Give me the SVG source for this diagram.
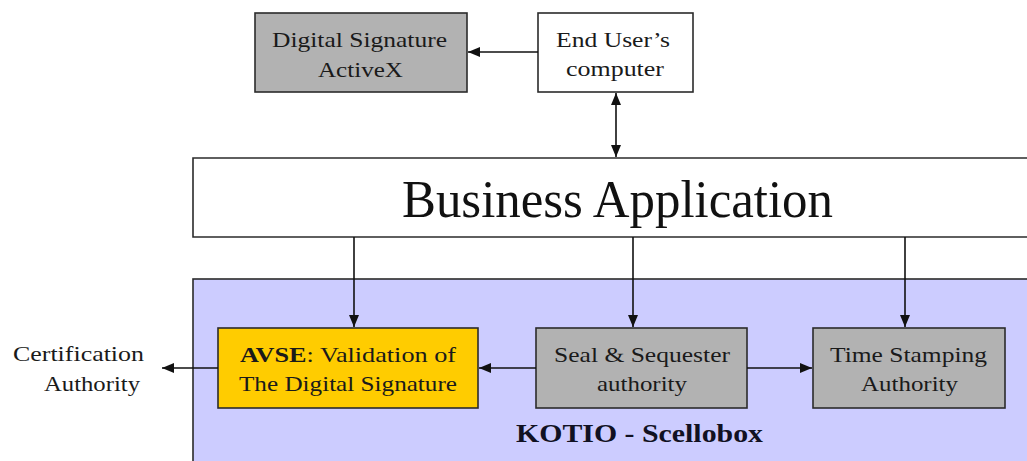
<svg xmlns="http://www.w3.org/2000/svg" width="1027" height="461" viewBox="0 0 1027 461">
  <style>
    .box { stroke: #2b2b2b; stroke-width: 1.6; }
    .white { fill: #ffffff; }
    .gray { fill: #b2b2b2; }
    .gold { fill: #ffcc00; }
    .zone { fill: #ccccff; }
    .lbl { font-family: "Liberation Serif", "Times New Roman", serif; font-size: 21px; fill: #1a1a1a; }
    .big { font-family: "Liberation Serif", "Times New Roman", serif; font-size: 52px; fill: #111111; }
    .title { font-family: "Liberation Serif", "Times New Roman", serif; font-size: 25px; font-weight: bold; fill: #111122; }
    .bold { font-weight: bold; }
    .wire { stroke: #111111; stroke-width: 1.6; fill: none; }
  </style>
  <defs>
    <marker id="head" markerUnits="userSpaceOnUse" markerWidth="13" markerHeight="10" refX="12" refY="5" orient="auto-start-reverse">
      <path d="M0,0 L12,5 L0,10 Z" fill="#111111"/>
    </marker>
  </defs>

  <rect width="1027" height="461" fill="#ffffff"/>

  <!-- Scellobox zone -->
  <g id="kotio-scellobox">
    <rect class="box zone" x="193" y="279" width="840" height="190"/>
    <text class="title" x="516" y="442" textLength="247" lengthAdjust="spacingAndGlyphs">KOTIO - Scellobox</text>
  </g>

  <!-- Digital Signature ActiveX -->
  <g id="activex">
    <rect class="box gray" x="255" y="13" width="212" height="79"/>
    <text class="lbl" x="272" y="47" textLength="175" lengthAdjust="spacingAndGlyphs">Digital Signature</text>
    <text class="lbl" x="318" y="77" textLength="85" lengthAdjust="spacingAndGlyphs">ActiveX</text>
  </g>

  <!-- End user's computer -->
  <g id="end-user">
    <rect class="box white" x="538" y="13" width="155" height="79"/>
    <text class="lbl" x="556" y="47" textLength="114" lengthAdjust="spacingAndGlyphs">End User’s</text>
    <text class="lbl" x="566" y="76" textLength="98" lengthAdjust="spacingAndGlyphs">computer</text>
  </g>

  <!-- Business application bar -->
  <g id="business-app">
    <path class="box white" d="M1030,158 H193 V237 H1030"/>
    <text class="big" x="402" y="217" textLength="431" lengthAdjust="spacingAndGlyphs">Business Application</text>
  </g>

  <!-- AVSE validation -->
  <g id="avse">
    <rect class="box gold" x="218" y="328" width="260" height="80"/>
    <text class="lbl" x="240" y="362" textLength="216" lengthAdjust="spacingAndGlyphs"><tspan class="bold">AVSE</tspan>: Validation of</text>
    <text class="lbl" x="239" y="391" textLength="218" lengthAdjust="spacingAndGlyphs">The Digital Signature</text>
  </g>

  <!-- Seal & Sequester authority -->
  <g id="seal-sequester">
    <rect class="box gray" x="536" y="328" width="211" height="80"/>
    <text class="lbl" x="554" y="362" textLength="176" lengthAdjust="spacingAndGlyphs">Seal &amp; Sequester</text>
    <text class="lbl" x="597" y="391" textLength="90" lengthAdjust="spacingAndGlyphs">authority</text>
  </g>

  <!-- Time stamping authority -->
  <g id="time-stamping">
    <rect class="box gray" x="813" y="328" width="192" height="80"/>
    <text class="lbl" x="830" y="362" textLength="157" lengthAdjust="spacingAndGlyphs">Time Stamping</text>
    <text class="lbl" x="861" y="391" textLength="97" lengthAdjust="spacingAndGlyphs">Authority</text>
  </g>

  <!-- External certification authority -->
  <g id="certification-authority">
    <text class="lbl" x="13" y="361" textLength="131" lengthAdjust="spacingAndGlyphs">Certification</text>
    <text class="lbl" x="44" y="391" textLength="96" lengthAdjust="spacingAndGlyphs">Authority</text>
  </g>

  <!-- Connectors -->
  <g id="connectors">
    <line class="wire" x1="538" y1="52" x2="468" y2="52" marker-end="url(#head)"/>
    <line class="wire" x1="616" y1="93" x2="616" y2="157" marker-start="url(#head)" marker-end="url(#head)"/>
    <line class="wire" x1="354" y1="237" x2="354" y2="327" marker-end="url(#head)"/>
    <line class="wire" x1="633" y1="237" x2="633" y2="327" marker-end="url(#head)"/>
    <line class="wire" x1="905" y1="237" x2="905" y2="327" marker-end="url(#head)"/>
    <line class="wire" x1="536" y1="368" x2="479" y2="368" marker-end="url(#head)"/>
    <line class="wire" x1="747" y1="368" x2="812" y2="368" marker-end="url(#head)"/>
    <line class="wire" x1="218" y1="368" x2="162" y2="368" marker-end="url(#head)"/>
  </g>
</svg>
